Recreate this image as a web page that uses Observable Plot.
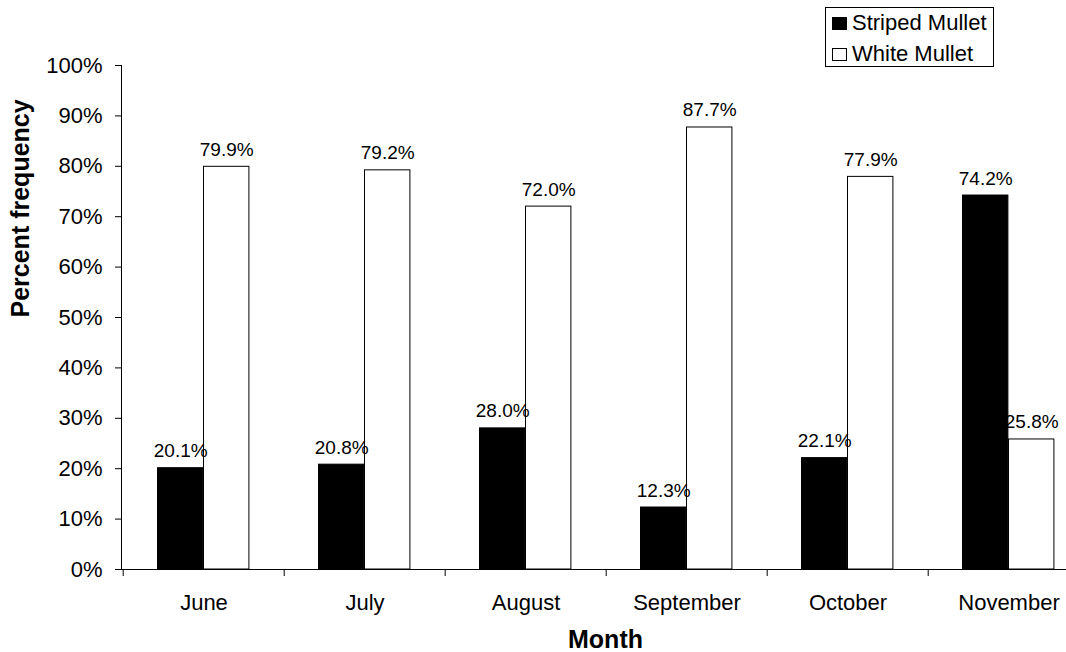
<!DOCTYPE html>
<html>
<head>
<meta charset="utf-8">
<script src="https://cdn.jsdelivr.net/npm/d3@7"></script>
<script src="https://cdn.jsdelivr.net/npm/@observablehq/plot@0.6"></script>
<style>
  html, body { margin: 0; padding: 0; background: #fff; }
  #wrap { position: relative; width: 1066px; height: 652px; font-family: "Liberation Sans", Arial, sans-serif; }
  #legend { position: absolute; left: 825px; top: 7px; width: 169px; height: 60px; box-sizing: border-box; border: 1px solid #000; background: #fff; }
  .row { position: absolute; left: 0; height: 26px; line-height: 26px; font-size: 22px; color: #000; white-space: nowrap; }
  .sw { position: absolute; left: 6px; top: 7px; width: 15px; height: 13px; box-sizing: border-box; border: 1px solid #000; }
  .lab { position: absolute; left: 26px; top: 0; }
</style>
</head>
<body>
<div id="wrap"></div>
<script>
const months = ["June", "July", "August", "September", "October", "November"];
const seriesNames = ["Striped Mullet", "White Mullet"];
const stripedValues = [0.201, 0.208, 0.280, 0.123, 0.221, 0.742];
const whiteValues = [0.799, 0.792, 0.720, 0.877, 0.779, 0.258];
const yTicks = [0, 0.1, 0.2, 0.3, 0.4, 0.5, 0.6, 0.7, 0.8, 0.9, 1.0];
const seriesFill = ["#000000", "#ffffff"];

const rows = months.flatMap((m, i) => [
  {month: m, series: seriesNames[0], value: stripedValues[i]},
  {month: m, series: seriesNames[1], value: whiteValues[i]}
]);
const striped = rows.filter(d => d.series === seriesNames[0]);
const white = rows.filter(d => d.series === seriesNames[1]);
const pct1 = d3.format(".1%");

const chart = Plot.plot({
  width: 1066,
  height: 652,
  marginLeft: 121,
  marginRight: 0,
  marginTop: 65,
  marginBottom: 83,
  style: {fontFamily: "'Liberation Sans', Arial, sans-serif", background: "transparent", color: "#000"},
  x: {type: "band", domain: months, range: [121, 1090.6], padding: 0, label: null},
  y: {domain: [0, 1], label: null},
  marks: [
    Plot.barY(striped, {x: "month", y: "value", fill: seriesFill[0], stroke: "#000", strokeWidth: 1, insetLeft: 34.5, insetRight: 81.1}),
    Plot.barY(white, {x: "month", y: "value", fill: seriesFill[1], stroke: "#000", strokeWidth: 1, insetLeft: 80.5, insetRight: 35.1}),
    Plot.text(striped, {x: "month", y: "value", text: d => pct1(d.value), dx: -23.3, dy: -11, lineAnchor: "bottom", fontSize: 19, fill: "#000"}),
    Plot.text(white, {x: "month", y: "value", text: d => pct1(d.value), dx: 22.7, dy: -11, lineAnchor: "bottom", fontSize: 19, fill: "#000"}),
    Plot.axisY({ticks: yTicks, tickFormat: d3.format(".0%"), tickSize: 6, tickPadding: 13, fontSize: 22, label: null}),
    Plot.axisX({tickSize: 7, tickFormat: () => "", dx: -80.8, label: null}),
    Plot.axisX({tickSize: 0, tickPadding: 25, fontSize: 22, label: null}),
    Plot.frame({anchor: "left"}),
    Plot.ruleY([0], {stroke: "#000"}),
    Plot.text(["Percent frequency"], {frameAnchor: "left", rotate: -90, dx: -93, lineAnchor: "bottom", fontSize: 25, fontWeight: "bold", fill: "#000"}),
    Plot.text(["Month"], {frameAnchor: "bottom", dx: 11.5, dy: 78, lineAnchor: "bottom", fontSize: 25, fontWeight: "bold", fill: "#000"})
  ]
});

const wrap = document.getElementById("wrap");
wrap.appendChild(chart);

const legend = document.createElement("div");
legend.id = "legend";
const rowTops = [2.4, 33.4];
seriesNames.forEach((name, i) => {
  const r = document.createElement("div");
  r.className = "row";
  r.style.top = rowTops[i] + "px";
  const sw = document.createElement("span");
  sw.className = "sw";
  sw.style.background = seriesFill[i];
  const lab = document.createElement("span");
  lab.className = "lab";
  lab.textContent = name;
  r.appendChild(sw);
  r.appendChild(lab);
  legend.appendChild(r);
});
wrap.appendChild(legend);
</script>
</body>
</html>
